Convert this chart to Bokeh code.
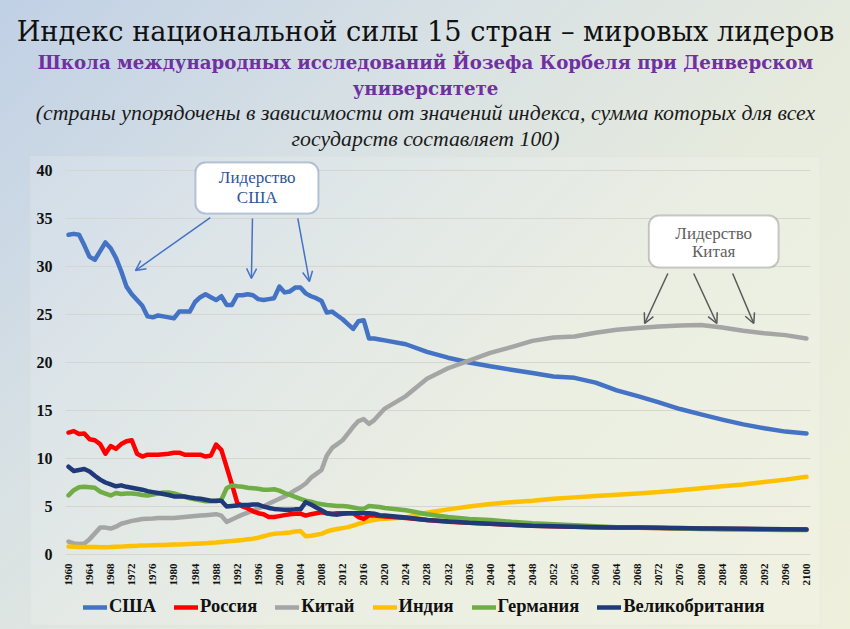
import math
from bokeh.plotting import figure
from bokeh.models import (Legend, LegendItem, Title, BoxAnnotation, Label, Arrow,
                          OpenHead, Range1d)
from bokeh.core.properties import value
from bokeh.embed import file_html
from bokeh.resources import INLINE

# ---------------- data ----------------
hist_years = list(range(1960, 2021))
proj_years = list(range(2024, 2101, 4))
years = hist_years + proj_years

usa = [33.3, 33.4, 33.3, 32.2, 31.0, 30.7, 31.6, 32.5, 31.9, 30.9,
       29.5, 27.9, 27.1, 26.5, 25.9, 24.8, 24.7, 24.9, 24.8, 24.7,
       24.6, 25.3, 25.3, 25.3, 26.3, 26.8, 27.1, 26.8, 26.5, 26.9,
       26.0, 26.0, 27.0, 27.0, 27.1, 27.0, 26.6, 26.5, 26.6, 26.7,
       27.9, 27.3, 27.4, 27.8, 27.8, 27.2, 26.9, 26.7, 26.4, 25.2,
       25.3, 24.9, 24.5, 24.0, 23.5, 24.3, 24.4, 22.5, 22.5, 22.4,
       22.3,
       21.9, 21.1, 20.5, 20.0, 19.6, 19.25, 18.9, 18.55, 18.4, 17.9,
       17.1, 16.5, 15.85, 15.15, 14.6, 14.05, 13.55, 13.15, 12.8, 12.6]

russia = [12.7, 12.85, 12.55, 12.6, 12.0, 11.9, 11.5, 10.5, 11.3, 11.0,
          11.5, 11.8, 11.9, 10.5, 10.2, 10.4, 10.4, 10.4, 10.45, 10.5,
          10.6, 10.6, 10.4, 10.4, 10.4, 10.4, 10.2, 10.3, 11.45, 10.9,
          9.1, 7.3, 5.4, 5.0, 4.8, 4.5, 4.3, 4.2, 3.9, 3.9,
          4.0, 4.1, 4.2, 4.25, 4.25, 4.05, 4.2, 4.3, 4.4, 4.3,
          4.25, 4.3, 4.3, 4.3, 4.3, 3.9, 3.7, 4.05, 4.05, 4.0,
          3.95,
          3.8, 3.6, 3.4, 3.3, 3.2, 3.1, 3.0, 2.95, 2.9, 2.85,
          2.8, 2.78, 2.75, 2.72, 2.7, 2.65, 2.65, 2.62, 2.6, 2.6]

china = [1.35, 1.15, 1.1, 1.15, 1.6, 2.2, 2.8, 2.8, 2.7, 2.9,
         3.2, 3.35, 3.5, 3.6, 3.7, 3.72, 3.75, 3.8, 3.8, 3.8,
         3.8, 3.85, 3.9, 3.95, 4.0, 4.05, 4.1, 4.15, 4.2, 4.05,
         3.4, 3.65, 3.9, 4.15, 4.35, 4.6, 4.8, 5.0, 5.3, 5.55,
         5.8, 6.05, 6.35, 6.7, 7.0, 7.4, 8.0, 8.4, 8.8, 10.3,
         11.1, 11.5, 11.9, 12.6, 13.3, 13.9, 14.1, 13.6, 14.0, 14.6,
         15.2,
         16.5, 18.3, 19.4, 20.2, 21.0, 21.6, 22.25, 22.6, 22.7, 23.1,
         23.4, 23.6, 23.75, 23.85, 23.9, 23.65, 23.3, 23.05, 22.85, 22.5]

india = [0.83, 0.8, 0.77, 0.77, 0.77, 0.77, 0.76, 0.76, 0.77, 0.8,
         0.82, 0.85, 0.88, 0.9, 0.95, 0.95, 0.97, 1.0, 1.0, 1.02,
         1.05, 1.05, 1.07, 1.1, 1.12, 1.15, 1.18, 1.22, 1.25, 1.3,
         1.35, 1.4, 1.45, 1.5, 1.58, 1.65, 1.75, 1.9, 2.05, 2.15,
         2.2, 2.25, 2.3, 2.4, 2.45, 1.9, 1.95, 2.05, 2.15, 2.4,
         2.55, 2.65, 2.75, 2.85, 3.0, 3.2, 3.35, 3.5, 3.6, 3.7,
         3.72,
         3.85, 4.35, 4.7, 5.0, 5.25, 5.45, 5.6, 5.8, 5.95, 6.1,
         6.22, 6.35, 6.5, 6.7, 6.9, 7.1, 7.3, 7.55, 7.8, 8.1]

germany = [6.15, 6.7, 7.0, 7.05, 7.0, 6.95, 6.55, 6.35, 6.15, 6.4,
           6.3, 6.35, 6.35, 6.3, 6.2, 6.15, 6.25, 6.35, 6.45, 6.45,
           6.35, 6.2, 6.0, 5.85, 5.75, 5.65, 5.55, 5.55, 5.55, 5.7,
           6.9, 7.2, 7.1, 7.05, 6.95, 6.9, 6.85, 6.75, 6.75, 6.8,
           6.65, 6.4, 6.2, 6.0, 5.8, 5.6, 5.5, 5.35, 5.25, 5.15,
           5.1, 5.05, 5.05, 5.0, 4.9, 4.8, 4.75, 5.05, 5.0, 4.95,
           4.85,
           4.6, 4.2, 3.9, 3.7, 3.6, 3.4, 3.25, 3.15, 3.05, 2.95,
           2.85, 2.8, 2.75, 2.7, 2.65, 2.62, 2.6, 2.58, 2.55, 2.55]

uk = [9.15, 8.7, 8.8, 8.9, 8.65, 8.2, 7.8, 7.5, 7.3, 7.1,
      7.2, 7.05, 6.95, 6.85, 6.75, 6.6, 6.5, 6.4, 6.3, 6.2,
      6.05, 6.05, 6.05, 5.95, 5.85, 5.8, 5.7, 5.6, 5.6, 5.6,
      5.0, 5.05, 5.1, 5.15, 5.15, 5.2, 5.2, 5.0, 4.85, 4.75,
      4.7, 4.65, 4.65, 4.7, 4.7, 5.45, 5.2, 4.9, 4.6, 4.3,
      4.2, 4.15, 4.25, 4.3, 4.3, 4.3, 4.3, 4.3, 4.25, 4.1,
      4.05,
      3.85, 3.6, 3.45, 3.3, 3.2, 3.1, 3.0, 2.95, 2.9, 2.85,
      2.82, 2.8, 2.78, 2.75, 2.72, 2.7, 2.68, 2.65, 2.62, 2.6]

series_names = ["США", "Россия", "Китай", "Индия", "Германия", "Великобритания"]
series_values = [usa, russia, china, india, germany, uk]
series_colors = ["#4472C4", "#FF0000", "#A5A5A5", "#FFC000", "#70AD47", "#1F3A78"]

x_ticks = list(range(1960, 2101, 4))
x_tick_labels = [str(t) for t in x_ticks]
y_ticks = [0, 5, 10, 15, 20, 25, 30, 35, 40]
y_tick_labels = [str(t) for t in y_ticks]

title_1 = "Индекс национальной силы 15 стран – мировых лидеров"
title_2 = "Школа международных исследований Йозефа Корбеля при Денверском"
title_3 = "университете"
title_4 = "(страны упорядочены в зависимости от значений индекса, сумма которых для всех"
title_5 = "государств составляет 100)"

# ---------------- figure ----------------
X0, X1 = 1952.60, 2102.85          # frame spans the whole chart panel
GRID_X0, GRID_X1 = 1959.43, 2100.76
p = figure(width=850, height=629, output_backend="svg", toolbar_location=None,
           x_range=Range1d(X0, X1), y_range=Range1d(-7.5, 41.56),
           min_border_left=29, min_border_right=29, min_border_top=155,
           min_border_bottom=3)
p.styles = {"background": "linear-gradient(135deg, #c0d0e5 0%, #d8e1e4 33%, #e7ebdd 62%, #eef0dc 100%)"}
p.border_fill_alpha = 0
p.background_fill_alpha = 0
p.outline_line_color = None
p.xaxis.visible = False
p.yaxis.visible = False
p.xgrid.grid_line_color = None
p.ygrid.grid_line_color = None

SERIF = "Liberation Serif"

# chart panel
p.add_layout(BoxAnnotation(left=X0 + 0.15, right=X1 - 0.15, top=41.45, bottom=-7.4,
                           fill_color="white", fill_alpha=0.16, line_color="#dfe1d6",
                           line_width=1.5, level="underlay"))

# spacer between the plot frame and the titles
p.add_layout(Title(text=" ", text_font_size="1px", standoff=2), "above")
# titles (added nearest-first)
for txt, font, size, style, color, so in [
        (title_5, SERIF, "21.8px", "italic", "#1a1a1a", 0),
        (title_4, SERIF, "21.8px", "italic", "#1a1a1a", 0),
        (title_3, "DejaVu Serif", "18.2px", "bold", "#7030A0", 0),
        (title_2, "DejaVu Serif", "18.2px", "bold", "#7030A0", 6),
        (title_1, "DejaVu Serif", "27.2px", "normal", "#111111", 0)]:
    p.add_layout(Title(text=txt, align="center", text_font=font, text_font_size=size,
                       text_font_style=style, text_color=color, standoff=so), "above")

# horizontal grid lines
p.segment(x0=[GRID_X0] * len(y_ticks), y0=y_ticks, x1=[GRID_X1] * len(y_ticks), y1=y_ticks,
          line_color="#d4d6cf", line_width=1)

# y tick labels
p.text(x=[1960] * len(y_ticks), y=y_ticks, text=y_tick_labels, x_offset=-16,
       text_align="right", text_baseline="middle",
       text_font=value(SERIF), text_font_style="bold", text_font_size="16px",
       text_color="#111111")

# x tick labels (vertical, under the zero line)
p.text(x=x_ticks, y=[0] * len(x_ticks), text=x_tick_labels, angle=math.pi / 2,
       text_align="right", text_baseline="middle", y_offset=9,
       text_font=value(SERIF), text_font_style="bold", text_font_size="11px",
       text_color="#111111")

# lines
renderers = {}
draw_order = [0, 2, 3, 1, 4, 5]
for i in draw_order:
    r = p.line(years, series_values[i], line_color=series_colors[i], line_width=4.5,
               line_join="round", line_cap="round")
    renderers[i] = r

legend = Legend(items=[LegendItem(label=series_names[i], renderers=[renderers[i]])
                       for i in range(6)],
                orientation="horizontal", location=(54, 9),
                label_text_font=SERIF, label_text_font_style="bold",
                label_text_font_size="18.5px", label_text_color="#111111",
                glyph_width=24, glyph_height=18, label_standoff=2, spacing=18,
                padding=2, margin=0, border_line_color=None,
                background_fill_alpha=0)
p.add_layout(legend, "center")

# annotations: USA leadership
p.add_layout(BoxAnnotation(left=1984.1, right=2007.4, bottom=35.52, top=40.83,
                           fill_color="white", fill_alpha=1, line_color="#2F5597",
                           line_width=2, border_radius=10))
for ytxt, t in [(39.27, "Лидерство"), (37.19, "США")]:
    p.add_layout(Label(x=1995.8, y=ytxt, text=t, text_align="center", text_baseline="middle",
                       text_font=SERIF, text_font_size="17px", text_color="#2F5597"))
for x0, y0, x1, y1 in [(1986.9, 35.1, 1972.7, 29.58), (1994.9, 35.0, 1994.7, 28.75),
                       (2003.5, 35.0, 2005.7, 28.44)]:
    p.add_layout(Arrow(x_start=x0, y_start=y0, x_end=x1, y_end=y1,
                       line_color="#4472C4", line_width=1.5,
                       end=OpenHead(size=10, line_color="#4472C4", line_width=1.5)))

# annotations: China leadership
p.add_layout(BoxAnnotation(left=2070.1, right=2094.7, bottom=29.9, top=35.31,
                           fill_color="white", fill_alpha=1, line_color="#595959",
                           line_width=2, border_radius=10))
for ytxt, t in [(33.44, "Лидерство"), (31.56, "Китая")]:
    p.add_layout(Label(x=2082.4, y=ytxt, text=t, text_align="center", text_baseline="middle",
                       text_font=SERIF, text_font_size="17px", text_color="#5f5f5f"))
for x0, y0, x1, y1 in [(2073.7, 29.27, 2069.3, 24.06), (2078.6, 29.27, 2083.0, 24.06),
                       (2086.0, 29.27, 2090.0, 24.06)]:
    p.add_layout(Arrow(x_start=x0, y_start=y0, x_end=x1, y_end=y1,
                       line_color="#595959", line_width=1.5,
                       end=OpenHead(size=10, line_color="#595959", line_width=1.5)))

open("out.html", "w").write(file_html(p, INLINE))
